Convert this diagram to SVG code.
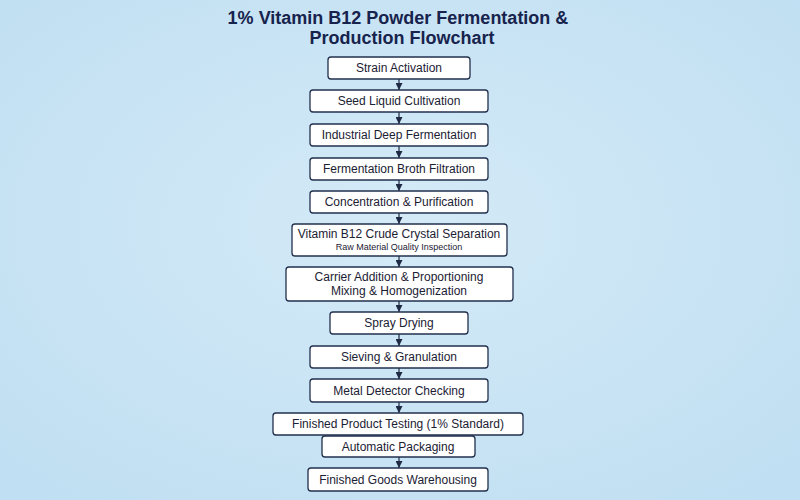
<svg xmlns="http://www.w3.org/2000/svg" width="800" height="500" viewBox="0 0 800 500">
<defs>
<radialGradient id="bg" cx="50%" cy="45%" r="70%">
<stop offset="0" stop-color="#d4eaf7"/>
<stop offset="1" stop-color="#c0dff2"/>
</radialGradient>
<marker id="ah" markerUnits="userSpaceOnUse" markerWidth="7" markerHeight="7" refX="7" refY="3.5" orient="auto">
<path d="M0,0 L7,3.5 L0,7 z" fill="#1f2a44"/>
</marker>
<style>
.box{fill:#ffffff;stroke:#22304d;stroke-width:1.3}
.t{font-family:"Liberation Sans",Arial,sans-serif;font-size:12px;fill:#1b2133;text-anchor:middle}
.s{font-family:"Liberation Sans",Arial,sans-serif;font-size:9px;fill:#1b2133;text-anchor:middle}
.title{font-family:"Liberation Sans",Arial,sans-serif;font-size:18px;font-weight:bold;fill:#17234d;text-anchor:middle}
.c{stroke:#1f2a44;stroke-width:1.2;fill:none;marker-end:url(#ah)}
</style>
</defs>
<rect width="800" height="500" fill="url(#bg)"/>
<g id="title">
<text class="title" x="398" y="23.5">1% Vitamin B12 Powder Fermentation &amp;</text>
<text class="title" x="402" y="44">Production Flowchart</text>
</g>
<g id="connectors">
<line class="c" x1="399" y1="79" x2="399" y2="90"/>
<line class="c" x1="399" y1="112" x2="399" y2="124"/>
<line class="c" x1="399" y1="146" x2="399" y2="158"/>
<line class="c" x1="399" y1="180" x2="399" y2="191"/>
<line class="c" x1="399" y1="213" x2="399" y2="224"/>
<line class="c" x1="399" y1="256" x2="399" y2="267"/>
<line class="c" x1="399" y1="301" x2="399" y2="312"/>
<line class="c" x1="399" y1="334" x2="399" y2="346"/>
<line class="c" x1="399" y1="368" x2="399" y2="379"/>
<line class="c" x1="399" y1="402" x2="399" y2="413"/>
<line class="c" x1="399" y1="457" x2="399" y2="468"/>
</g>
<g id="n1"><rect class="box" x="328" y="57" width="142" height="22" rx="3"/><text class="t" x="399" y="72">Strain Activation</text></g>
<g id="n2"><rect class="box" x="310" y="90" width="178" height="22" rx="3"/><text class="t" x="399" y="105">Seed Liquid Cultivation</text></g>
<g id="n3"><rect class="box" x="310" y="124" width="178" height="22" rx="3"/><text class="t" x="399" y="139">Industrial Deep Fermentation</text></g>
<g id="n4"><rect class="box" x="310" y="158" width="178" height="22" rx="3"/><text class="t" x="399" y="173">Fermentation Broth Filtration</text></g>
<g id="n5"><rect class="box" x="310" y="191" width="178" height="22" rx="3"/><text class="t" x="399" y="206">Concentration &amp; Purification</text></g>
<g id="n6"><rect class="box" x="292" y="224" width="215" height="32" rx="3"/><text class="t" x="399" y="238">Vitamin B12 Crude Crystal Separation</text><text class="s" x="399" y="250">Raw Material Quality Inspection</text></g>
<g id="n7"><rect class="box" x="286" y="267" width="227" height="34" rx="3"/><text class="t" x="399" y="281">Carrier Addition &amp; Proportioning</text><text class="t" x="399" y="295">Mixing &amp; Homogenization</text></g>
<g id="n8"><rect class="box" x="330" y="312" width="138" height="22" rx="3"/><text class="t" x="399" y="327">Spray Drying</text></g>
<g id="n9"><rect class="box" x="310" y="346" width="178" height="22" rx="3"/><text class="t" x="399" y="361">Sieving &amp; Granulation</text></g>
<g id="n10"><rect class="box" x="310" y="379" width="178" height="23" rx="3"/><text class="t" x="399" y="395">Metal Detector Checking</text></g>
<g id="n11"><rect class="box" x="273" y="413" width="250" height="22" rx="3"/><text class="t" x="398" y="428">Finished Product Testing (1% Standard)</text></g>
<g id="n12"><rect class="box" x="322" y="436" width="153" height="21" rx="3"/><text class="t" x="398" y="451">Automatic Packaging</text></g>
<g id="n13"><rect class="box" x="308" y="468" width="180" height="23" rx="3"/><text class="t" x="398" y="484">Finished Goods Warehousing</text></g>
</svg>
